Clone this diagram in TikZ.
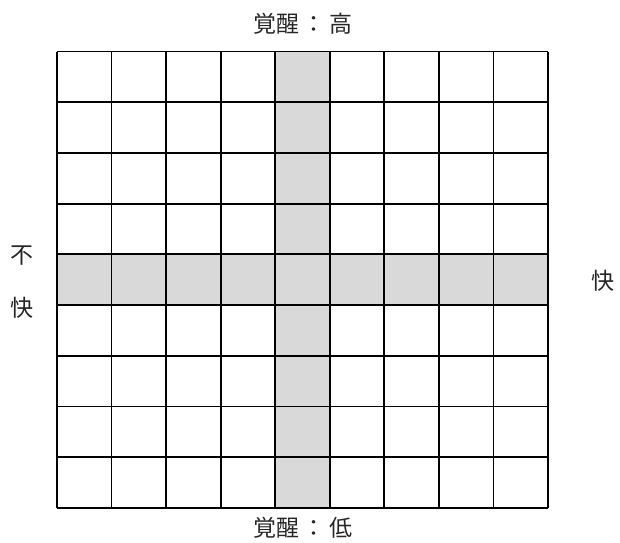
\documentclass[tikz,border=0pt]{standalone}
\usepackage{fontspec}
\newfontfamily\cjk{Noto Sans CJK JP}
\definecolor{cellgray}{HTML}{D9D9D9}
\begin{document}
\begin{tikzpicture}[x=1pt,y=-1pt,
  lbl/.style={font=\cjk\fontsize{23}{27}\selectfont, inner sep=0pt, text=black!85},
  gridline/.style={line width=1.8pt, draw=black}]
\useasboundingbox (0,0) rectangle (620,542);
\def\gx{57}\def\gy{51.5}\def\cw{54.56}\def\ch{50.72}
% gray cross
\fill[cellgray] (\gx+4*\cw,\gy) rectangle (\gx+5*\cw,\gy+9*\ch);
\fill[cellgray] (\gx,\gy+4*\ch) rectangle (\gx+9*\cw,\gy+5*\ch);
% grid
\foreach \i in {0,...,9}{
  \draw[gridline] (\gx+\i*\cw,\gy) -- (\gx+\i*\cw,\gy+9*\ch);
  \draw[gridline] (\gx,\gy+\i*\ch) -- (\gx+9*\cw,\gy+\i*\ch);
}
\node[lbl] (top) at (303,24) {覚醒\,：\,高};
\node[lbl] (bottom) at (303,528) {覚醒\,：\,低};
\node[lbl] (left1) at (22,256) {不};
\node[lbl] (left2) at (22,308) {快};
\node[lbl] (right) at (603,281) {快};
\end{tikzpicture}
\end{document}
